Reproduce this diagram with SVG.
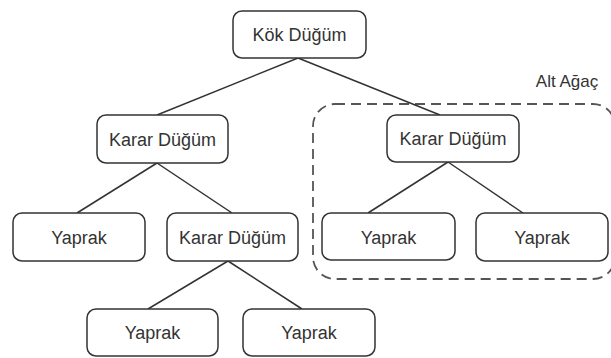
<svg xmlns="http://www.w3.org/2000/svg" width="611" height="358" viewBox="0 0 611 358">
<style>
.box{fill:#fff;stroke:#333;stroke-width:1.5}
.lbl{font-family:"Liberation Sans",Arial,sans-serif;font-size:18px;fill:#333;text-anchor:middle}
.edge{stroke:#333;stroke-width:1.5;fill:none}
.dash{fill:none;stroke:#555;stroke-width:1.8;stroke-dasharray:10 6}
</style>
<rect width="611" height="358" fill="#fff"/>
<rect class="dash" x="313" y="104" width="302" height="175" rx="22"/>
<text x="567" y="87" style="font-family:'Liberation Sans',Arial,sans-serif;font-size:17px;fill:#333" text-anchor="middle">Alt Ağaç</text>
<g id="connectors">
<line class="edge" x1="298" y1="58" x2="157" y2="115"/>
<line class="edge" x1="298" y1="58" x2="440" y2="115"/>
<line class="edge" x1="157" y1="163" x2="77" y2="213"/>
<line class="edge" x1="157" y1="163" x2="232" y2="213"/>
<line class="edge" x1="448" y1="162" x2="368" y2="213"/>
<line class="edge" x1="448" y1="162" x2="523" y2="213"/>
<line class="edge" x1="228" y1="261" x2="148" y2="309"/>
<line class="edge" x1="228" y1="261" x2="302" y2="309"/>
</g>
<g id="kok"><rect class="box" x="233" y="11" width="133" height="47" rx="9"/><text class="lbl" x="299.5" y="41">Kök Düğüm</text></g>
<g id="karar-l"><rect class="box" x="97" y="115" width="131" height="48" rx="9"/><text class="lbl" x="162.5" y="146">Karar Düğüm</text></g>
<g id="karar-r"><rect class="box" x="387" y="115" width="132" height="47" rx="9"/><text class="lbl" x="453" y="145">Karar Düğüm</text></g>
<g id="yaprak-ll"><rect class="box" x="13" y="213" width="132" height="48" rx="9"/><text class="lbl" x="79" y="244">Yaprak</text></g>
<g id="karar-m"><rect class="box" x="167" y="213" width="131" height="48" rx="9"/><text class="lbl" x="232.5" y="244">Karar Düğüm</text></g>
<g id="yaprak-rl"><rect class="box" x="322" y="213" width="133" height="47" rx="9"/><text class="lbl" x="388.5" y="244">Yaprak</text></g>
<g id="yaprak-rr"><rect class="box" x="476" y="213" width="132" height="48" rx="9"/><text class="lbl" x="542" y="244">Yaprak</text></g>
<g id="yaprak-bl"><rect class="box" x="87" y="309" width="131" height="47" rx="9"/><text class="lbl" x="152.5" y="339">Yaprak</text></g>
<g id="yaprak-br"><rect class="box" x="243" y="309" width="132" height="47" rx="9"/><text class="lbl" x="309" y="339">Yaprak</text></g>
</svg>
